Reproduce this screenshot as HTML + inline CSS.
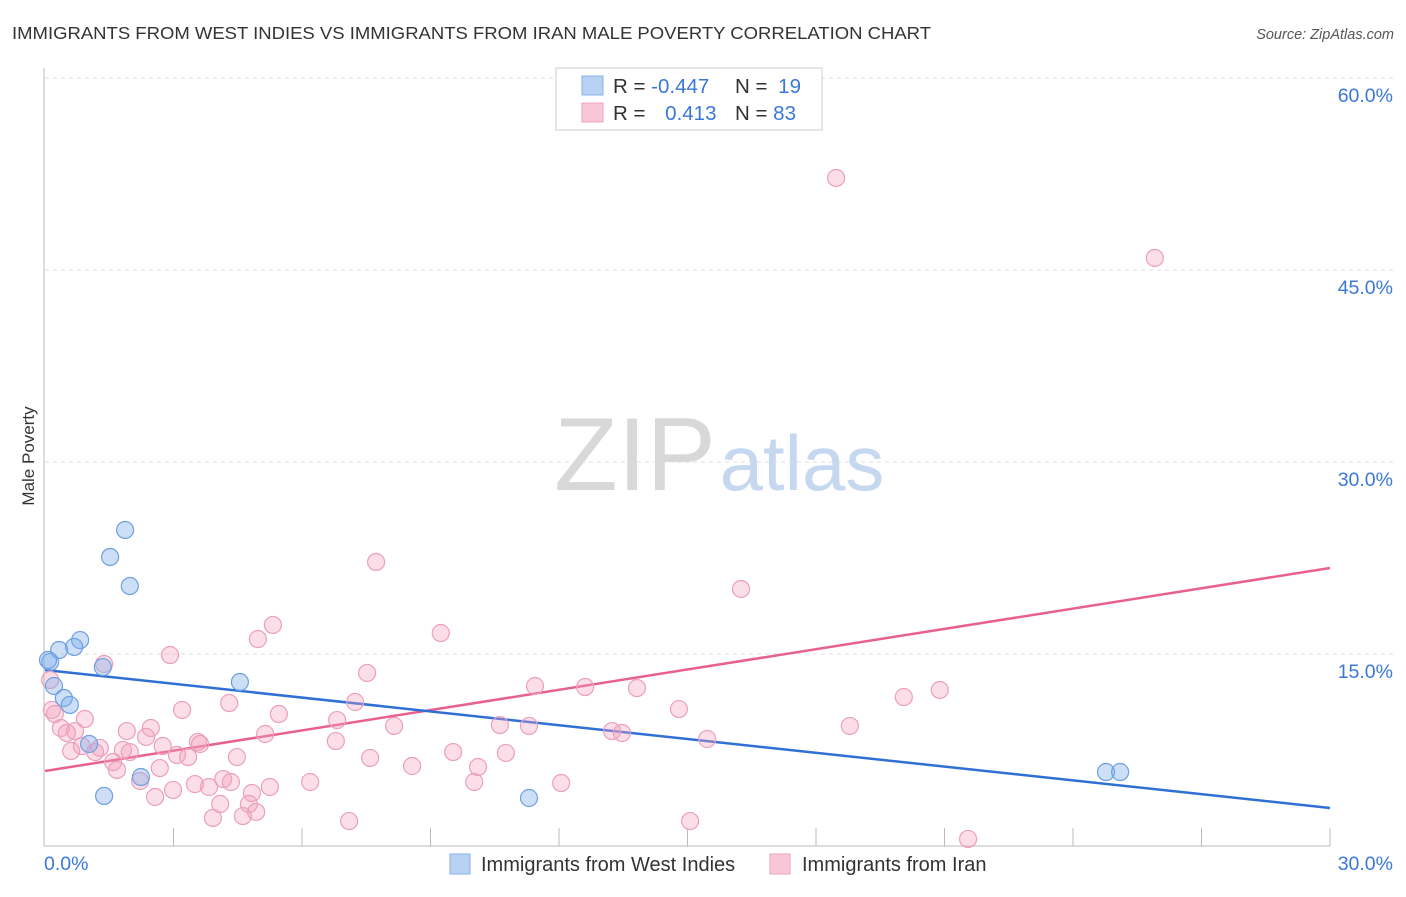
<!DOCTYPE html>
<html><head><meta charset="utf-8"><style>
body{margin:0;background:#fff;font-family:"Liberation Sans",sans-serif;}
svg text{font-family:"Liberation Sans",sans-serif;}
</style></head><body>
<svg id="chart" width="1406" height="892" xmlns="http://www.w3.org/2000/svg">
<text x="12" y="39" font-size="17.5" fill="#333" textLength="919" lengthAdjust="spacingAndGlyphs">IMMIGRANTS FROM WEST INDIES VS IMMIGRANTS FROM IRAN MALE POVERTY CORRELATION CHART</text>
<text x="1394" y="39" font-size="14.5" fill="#555" font-style="italic" text-anchor="end">Source: ZipAtlas.com</text>
<text transform="translate(34,456) rotate(-90)" font-size="17" fill="#333" text-anchor="middle">Male Poverty</text>
<g>
<text x="635" y="490" font-size="104" fill="#d8d8d8" font-family="Liberation Serif" text-anchor="middle">ZIP</text>
<text x="802" y="490" font-size="78" fill="#c6d8f0" text-anchor="middle">atlas</text>
</g>
<g id="grid"></g><g id="axes"></g><g id="lines"></g><g id="pts"></g>
<g>
<rect x="556" y="68" width="266" height="62" fill="#fff" stroke="#ccc"/>
<rect x="582" y="76" width="21" height="19" fill="#b8d2f4" stroke="#8ab0e6"/>
<rect x="582" y="103" width="21" height="19" fill="#f9c6d6" stroke="#eea6bf"/>
<text x="613" y="93" font-size="20.5" fill="#333">R = <tspan fill="#3a78d8">-0.447</tspan></text>
<text x="735" y="93" font-size="20.5" fill="#333">N = <tspan fill="#3a78d8" dx="5">19</tspan></text>
<text x="613" y="120" font-size="20.5" fill="#333">R = <tspan fill="#3a78d8" dx="14">0.413</tspan></text>
<text x="735" y="120" font-size="20.5" fill="#333">N = <tspan fill="#3a78d8">83</tspan></text>
</g>
<g>
<rect x="450" y="854" width="20" height="20" fill="#b8d2f4" stroke="#8ab0e6"/>
<text x="481" y="871" font-size="20" fill="#333">Immigrants from West Indies</text>
<rect x="770" y="854" width="20" height="20" fill="#f9c6d6" stroke="#eea6bf"/>
<text x="802" y="871" font-size="20" fill="#333">Immigrants from Iran</text>
</g>
</svg>
<script>
const yTicks=[15,30,45,60];
const xTickLabels=["0.0%","30.0%"];
const blueX=[1.87,1.52,1.98,0.82,0.33,0.68,0.12,1.35,0.21,0.44,0.58,4.55,1.03,2.24,1.38,11.30,24.77,25.10,0.07];
const blueY=[24.69,22.58,20.31,16.09,15.31,15.55,14.38,13.98,12.50,11.56,11.02,12.81,7.97,5.39,3.91,3.75,5.78,5.78,14.53];
const pinkX=[18.47,25.91,7.73,16.25,5.32,4.97,9.24,2.92,1.38,7.52,11.44,12.61,13.82,20.89,20.05,7.24,4.30,3.20,5.46,14.80,0.93,6.82,10.62,11.30,8.15,18.79,2.47,1.91,0.37,0.70,0.51,2.36,13.24,13.47,5.14,3.57,3.62,2.75,0.86,1.82,1.98,4.48,0.61,1.17,1.28,3.08,3.34,6.79,15.46,9.53,10.76,7.59,1.59,8.57,10.11,2.68,1.68,6.19,4.16,4.34,10.02,12.05,5.25,2.22,3.50,3.83,2.99,2.57,4.83,4.76,4.09,4.93,4.62,3.92,7.10,15.06,21.55,0.16,0.23,0.12];
const pinkY=[52.19,45.94,22.19,20.08,17.27,16.17,16.64,14.92,14.22,13.52,12.50,12.42,12.34,12.19,11.64,11.25,11.17,10.63,10.31,10.70,9.92,9.84,9.45,9.38,9.38,9.38,9.22,8.98,9.22,8.98,8.83,8.52,8.98,8.83,8.75,8.13,7.97,7.81,7.81,7.50,7.34,6.95,7.42,7.34,7.66,7.11,6.95,8.20,8.36,7.34,7.27,6.88,6.56,6.25,6.17,6.09,5.94,5.00,5.23,5.00,5.00,4.92,4.61,5.08,4.84,4.61,4.38,3.83,4.14,3.28,3.28,2.66,2.34,2.19,1.95,1.95,0.55,10.63,10.31,12.97];
const blueTrend=[13.75,2.97];
const pinkTrend=[5.86,21.72];
const NS="http://www.w3.org/2000/svg";
const X=v=>45+v/30*1285, Y=v=>846-v/15*192;
function mk(t,a,p){const e=document.createElementNS(NS,t);for(const k in a)e.setAttribute(k,a[k]);document.getElementById(p).appendChild(e);return e;}
yTicks.forEach(t=>{
 const l=mk('line',{x1:45,x2:1393,y1:Y(t),y2:Y(t),stroke:'#ddd','stroke-dasharray':'4,4'},'grid');
 
 
 const tx=mk('text',{x:1393,y:Y(t)+24,'font-size':19.5,fill:'#3a78d8','text-anchor':'end'},'grid');tx.textContent=t.toFixed(1)+'%';
 
 
});
let a=mk('line',{x1:44,x2:44,y1:68,y2:846,stroke:'#bbb'},'axes');


a=mk('line',{x1:44,x2:1330,y1:846,y2:846,stroke:'#bbb'},'axes');


for(let i=1;i<=10;i++){const t=mk('line',{x1:X(i*3),x2:X(i*3),y1:828,y2:846,stroke:'#bbb'},'axes');
 
 }
[[0,'start',44],[30,'end',1393]].forEach((d,i)=>{const t=mk('text',{x:d[2],y:870,'font-size':19.5,fill:'#3a78d8','text-anchor':d[1]},'axes');t.textContent=xTickLabels[i];
 
 });
function pts(xs,ys,fill,stroke,name){xs.forEach((x,i)=>{const c=mk('circle',{cx:X(x),cy:Y(ys[i]),r:8.5,fill:fill,stroke:stroke,'stroke-width':1.2},'pts');
 
 });}
pts(pinkX,pinkY,'rgba(244,160,188,0.35)','#eba0ba','iran-point');
pts(blueX,blueY,'rgba(130,175,235,0.4)','#6d9fe2','west-indies-point');
let tl=mk('line',{x1:X(0),x2:X(30),y1:Y(pinkTrend[0]),y2:Y(pinkTrend[1]),stroke:'#e8608e','stroke-width':2.5},'lines');


tl=mk('line',{x1:X(0),x2:X(30),y1:Y(blueTrend[0]),y2:Y(blueTrend[1]),stroke:'#2f6fd6','stroke-width':2.5},'lines');


</script>
</body></html>
